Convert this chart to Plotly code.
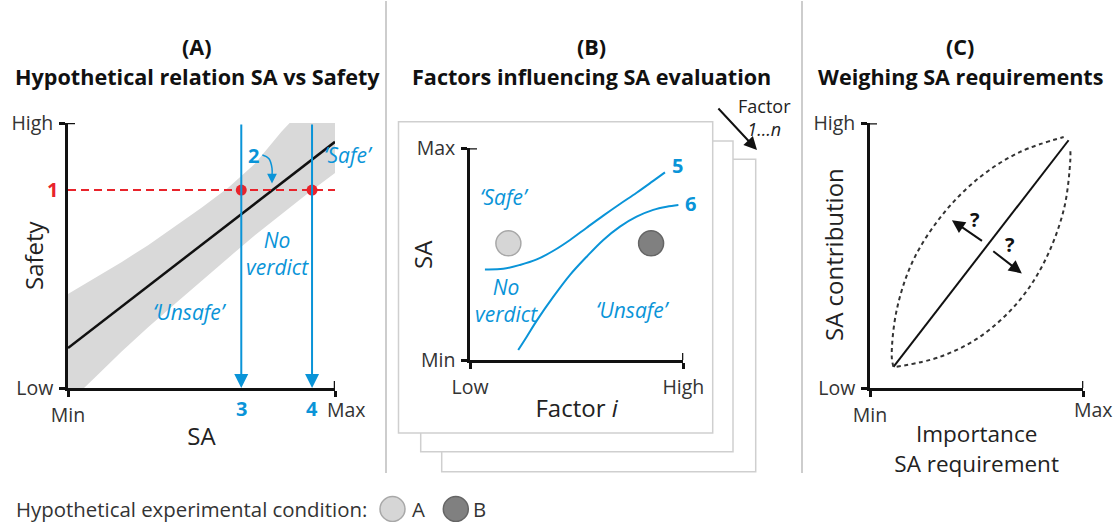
import plotly.graph_objects as go

# ---------------- data (normalised 0..1 conceptual axes) ----------------
# Panel A: hypothetical relation SA vs Safety
fit_x = [0.0, 1.0]
fit_y = [0.151, 0.929]
band_upper_x = [0.0, 0.1, 0.2, 0.3, 0.4, 0.5, 0.6, 0.7, 0.8, 0.83, 1.0]
band_upper_y = [0.355, 0.414, 0.475, 0.539, 0.608, 0.68, 0.756, 0.846, 0.968, 1.0, 1.0]
band_lower_x = [0.0, 0.06, 0.1, 0.2, 0.3, 0.4, 0.5, 0.6, 0.7, 0.8, 0.9, 1.0]
band_lower_y = [0.0, 0.0, 0.039, 0.137, 0.229, 0.317, 0.405, 0.491, 0.576, 0.657, 0.736, 0.811]
safety_threshold = 0.747          # safety level "1"
verdict_x = [0.649, 0.914]        # SA levels "3" and "4"
verdict_labels = ["3", "4"]
arrow2_x = [0.728, 0.752, 0.764, 0.764]
arrow2_y = [0.879, 0.866, 0.83, 0.80]

# Panel B: factors influencing SA evaluation
curve5_x = [0.070, 0.156, 0.234, 0.313, 0.391, 0.469, 0.547, 0.625, 0.703, 0.781, 0.859, 0.914]
curve5_y = [0.428, 0.431, 0.449, 0.475, 0.516, 0.567, 0.625, 0.682, 0.737, 0.790, 0.846, 0.886]
curve6_x = [0.226, 0.266, 0.313, 0.391, 0.469, 0.547, 0.625, 0.703, 0.781, 0.859, 0.922, 0.977]
curve6_y = [0.047, 0.110, 0.186, 0.299, 0.402, 0.488, 0.567, 0.630, 0.677, 0.709, 0.724, 0.732]
conditions = ["A", "B"]
condition_x = [0.180, 0.849]
condition_y = [0.551, 0.551]
condition_fill = ["#d6d6d6", "#808080"]
condition_edge = ["#a8a8a8", "#656565"]

# Panel C: weighing SA requirements
c_line_x = [0.110, 0.931]
c_line_y = [0.080, 0.936]
c_upper_x = [0.110, 0.102, 0.125, 0.203, 0.344, 0.516, 0.704, 0.908]
c_upper_y = [0.080, 0.118, 0.294, 0.483, 0.659, 0.797, 0.892, 0.948]
c_lower_x = [0.125, 0.329, 0.516, 0.689, 0.814, 0.908, 0.939, 0.939]
c_lower_y = [0.080, 0.118, 0.194, 0.320, 0.471, 0.672, 0.860, 0.903]

# tick labels
a_xticks = ["Min", ""]
a_yticks = ["Low", "High"]
b_xticks = ["Low", "High"]
b_yticks = ["Min", "Max"]
c_xticks = ["Min", ""]
c_yticks = ["Low", "High"]

# ---------------- style ----------------
W, H = 1119, 522
FONT = "Open Sans"
BLUE = "#0a94d8"
RED = "#e8232b"
BLACK = "#111111"
TXT = "#222222"
TICK_SIZE = 19.5
AXT_SIZE = 24
TITLE_SIZE = 21.6
BLUE_SIZE = 21


def px(x, y):
    return x / W, 1 - y / H


fig = go.Figure()

# ---- Panel A ----
band_x = band_upper_x + band_lower_x[::-1]
band_y = band_upper_y + band_lower_y[::-1]
fig.add_trace(go.Scatter(x=band_x, y=band_y, fill="toself", fillcolor="#d9d9d9",
                         mode="lines", line=dict(width=0), hoverinfo="skip",
                         xaxis="x", yaxis="y"))
fig.add_trace(go.Scatter(x=fit_x, y=fit_y, mode="lines", line=dict(color=BLACK, width=2.5),
                         xaxis="x", yaxis="y"))
fig.add_trace(go.Scatter(x=[0, 1], y=[safety_threshold] * 2, mode="lines",
                         line=dict(color=RED, width=2, dash="8px,5px"), xaxis="x", yaxis="y"))
fig.add_trace(go.Scatter(x=arrow2_x, y=arrow2_y, mode="lines", line=dict(color=BLUE, width=1.5, shape="spline"),
                         xaxis="x", yaxis="y"))

# ---- Panel B ----
for cx, cy in [(curve5_x, curve5_y), (curve6_x, curve6_y)]:
    fig.add_trace(go.Scatter(x=cx, y=cy, mode="lines", line=dict(color=BLUE, width=2, shape="spline"),
                             xaxis="x2", yaxis="y2"))
for i, name in enumerate(conditions):
    fig.add_trace(go.Scatter(x=[condition_x[i]], y=[condition_y[i]], mode="markers", name=name,
                             marker=dict(size=25, color=condition_fill[i],
                                         line=dict(color=condition_edge[i], width=1.5)),
                             xaxis="x2", yaxis="y2"))

# ---- Panel C ----
fig.add_trace(go.Scatter(x=c_line_x, y=c_line_y, mode="lines", line=dict(color=BLACK, width=2),
                         xaxis="x3", yaxis="y3"))
for cx, cy in [(c_upper_x, c_upper_y), (c_lower_x, c_lower_y)]:
    fig.add_trace(go.Scatter(x=cx, y=cy, mode="lines",
                             line=dict(color="#333333", width=2, dash="4px,3.5px", shape="spline"),
                             xaxis="x3", yaxis="y3"))

# red dots on top
fig.add_trace(go.Scatter(x=verdict_x, y=[safety_threshold] * len(verdict_x), mode="markers",
                         marker=dict(size=11, color=RED), xaxis="x", yaxis="y"))


# ---------------- axes ----------------
def axis(domain, ticktext, anchor, title=None, standoff=8, tsize=AXT_SIZE):
    d = dict(domain=domain, range=[0, 1], anchor=anchor, showgrid=False, zeroline=False,
             showline=True, linecolor=BLACK, linewidth=2.5, ticks="outside", ticklen=6,
             tickwidth=2.5, tickcolor=BLACK, tickvals=[0, 1], ticktext=ticktext,
             tickfont=dict(family=FONT, size=TICK_SIZE, color="#333333"), fixedrange=True,
             ticklabelstandoff=2, automargin=False)
    if title:
        d["title"] = dict(text=title, standoff=standoff, font=dict(family=FONT, size=tsize, color=TXT))
    return d


A = dict(x0=68, x1=335, y0=388, y1=123)
B = dict(x0=470, x1=683.3, y0=360, y1=148.3)
C = dict(x0=870, x1=1083.3, y0=388, y1=123.3)


def xd(p):
    return [p["x0"] / W, p["x1"] / W]


def yd(p):
    return [1 - p["y0"] / H, 1 - p["y1"] / H]


layout_axes = dict(
    xaxis=axis(xd(A), a_xticks, "y", "SA", 2),
    yaxis=axis(yd(A), a_yticks, "x"),
    xaxis2=axis(xd(B), b_xticks, "y2", "Factor <i>i</i>", 2),
    yaxis2=axis(yd(B), b_yticks, "x2"),
    xaxis3=axis(xd(C), c_xticks, "y3", "Importance<br>SA requirement", 0, 22.5),
    yaxis3=axis(yd(C), c_yticks, "x3"),
)

# ---------------- shapes ----------------
shapes = []
# separators
for sx in [386, 802]:
    shapes.append(dict(type="line", xref="paper", yref="paper", x0=sx / W, x1=sx / W,
                       y0=1 - 1 / H, y1=1 - 473 / H, line=dict(color="#bdbdbd", width=1.5)))
# stacked panels in B (back to front)
for (l, t, r, b) in [(441.7, 159.3, 755.7, 471.7), (420.7, 141, 733, 451.7), (398.5, 121.7, 712.7, 433)]:
    shapes.append(dict(type="rect", xref="paper", yref="paper", x0=l / W, x1=r / W,
                       y0=1 - b / H, y1=1 - t / H, fillcolor="white",
                       line=dict(color="#cfcfcf", width=1.5), layer="below"))
# end ticks crossing the axes
for xa, ya in [("x", "y"), ("x2", "y2"), ("x3", "y3")]:
    shapes.append(dict(type="line", xref=xa, yref=ya, xsizemode="pixel", xanchor=0, x0=-7, x1=7,
                       y0=1, y1=1, line=dict(color=BLACK, width=2.5)))
    shapes.append(dict(type="line", xref=xa, yref=ya, ysizemode="pixel", yanchor=0, y0=-7, y1=7,
                       x0=1, x1=1, line=dict(color=BLACK, width=2.5)))
# legend circles
for i, cxp in enumerate([392.5, 455.8]):
    shapes.append(dict(type="circle", xref="paper", yref="paper", xsizemode="pixel", ysizemode="pixel",
                       xanchor=cxp / W, yanchor=1 - 509 / H, x0=-12.5, x1=12.5, y0=-12.5, y1=12.5,
                       fillcolor=condition_fill[i], line=dict(color=condition_edge[i], width=1.5)))

# ---------------- annotations ----------------
ann = []


def fmt(s, bold, italic):
    if bold:
        s = "<b>" + s + "</b>"
    if italic:
        s = "<i>" + s + "</i>"
    return s


def text_px(x, y, s, size=18, color=TXT, bold=False, italic=False, angle=0, xanchor="center"):
    xx, yy = px(x, y)
    ann.append(dict(x=xx, y=yy, xref="paper", yref="paper", text=fmt(s, bold, italic), showarrow=False,
                    xanchor=xanchor, yanchor="middle", textangle=angle,
                    font=dict(family=FONT, size=size, color=color)))


def text_data(xa, ya, x, y, s, size=BLUE_SIZE, color=BLUE, bold=False, italic=False, xshift=0, yshift=0):
    ann.append(dict(x=x, y=y, xref=xa, yref=ya, text=fmt(s, bold, italic), showarrow=False,
                    xshift=xshift, yshift=yshift, font=dict(family=FONT, size=size, color=color)))


def arrow_data(xa, ya, x_tail, y_tail, x_head, y_head, color, width=2, size=1.3):
    ann.append(dict(x=x_head, y=y_head, ax=x_tail, ay=y_tail, xref=xa, yref=ya, axref=xa, ayref=ya,
                    text="", showarrow=True, arrowhead=2, arrowsize=size, arrowwidth=width,
                    arrowcolor=color, standoff=0, startstandoff=0))


# titles
for cx, lab, title in [(197, "(A)", "Hypothetical relation SA vs Safety"),
                       (591, "(B)", "Factors influencing SA evaluation"),
                       (960, "(C)", "Weighing SA requirements")]:
    text_px(cx, 47, lab, size=TITLE_SIZE, color="#111111", bold=True)
    text_px(cx, 76, title, size=TITLE_SIZE, color="#111111", bold=True)

# y-axis titles
text_px(33, 255, "Safety", size=AXT_SIZE, angle=-90)
text_px(422, 255, "SA", size=AXT_SIZE, angle=-90)
text_px(833, 255, "SA contribution", size=AXT_SIZE, angle=-90)

# "Max" labels set slightly right of the axis end, as in the reference
text_data("x", "y", 1, 0, "Max", size=TICK_SIZE, color="#333333", xshift=11, yshift=-21)
text_data("x3", "y3", 1, 0, "Max", size=TICK_SIZE, color="#333333", xshift=10, yshift=-21)

# Panel A labels
text_px(52, 190, "1", size=20, color=RED, bold=True)
for vx in verdict_x:
    arrow_data("x", "y", vx, 1.0, vx, 0.0, BLUE, width=2, size=1.4)
for vx, lab in zip(verdict_x, verdict_labels):
    text_data("x", "y", vx, 0, lab, size=20, bold=True, yshift=-20)
arrow_data("x", "y", arrow2_x[-1], arrow2_y[-1], 0.764, 0.772, BLUE, width=1.5, size=1.3)
text_data("x", "y", 0.694, 0.879, "2", size=20, bold=True)
text_data("x", "y", 1.0, 0.879, "\u2018Safe\u2019", italic=True, xshift=13)
text_data("x", "y", 0.783, 0.506, "No<br>verdict", italic=True)
text_data("x", "y", 0.457, 0.288, "\u2018Unsafe\u2019", italic=True)

# Panel B labels
text_data("x2", "y2", 0.164, 0.770, "\u2018Safe\u2019", italic=True)
text_data("x2", "y2", 0.169, 0.283, "No<br>verdict", italic=True)
text_data("x2", "y2", 0.764, 0.236, "\u2018Unsafe\u2019", italic=True)
text_data("x2", "y2", 0.975, 0.921, "5", size=20, bold=True)
text_data("x2", "y2", 1.0, 0.737, "6", size=20, bold=True, xshift=7)
text_px(764, 117, "Factor<br><i>1\u2026n</i>", size=18)
hx, hy = px(757, 150)
ann.append(dict(x=hx, y=hy, xref="paper", yref="paper", ax=-40, ay=-43, text="", showarrow=True,
                arrowhead=2, arrowsize=1.3, arrowwidth=2, arrowcolor=BLACK, standoff=0))

# Panel C labels
arrow_data("x3", "y3", 0.532, 0.552, 0.384, 0.634, BLACK, width=2, size=1.3)
arrow_data("x3", "y3", 0.571, 0.521, 0.712, 0.433, BLACK, width=2, size=1.3)
text_data("x3", "y3", 0.493, 0.636, "?", size=20, color=BLACK, bold=True)
text_data("x3", "y3", 0.657, 0.542, "?", size=20, color=BLACK, bold=True)

# legend line
text_px(14, 509, "Hypothetical experimental condition:", size=20.4, color="#333333", xanchor="left")
text_px(418.5, 509, conditions[0], size=20.4, color="#333333")
text_px(479, 509, conditions[1], size=20.4, color="#333333")

fig.update_layout(
    width=W, height=H, margin=dict(l=0, r=0, t=0, b=0, pad=0, autoexpand=False),
    paper_bgcolor="white", plot_bgcolor="rgba(0,0,0,0)",
    showlegend=False, shapes=shapes, annotations=ann,
    font=dict(family=FONT, color=TXT),
    **layout_axes,
)

fig.write_html("out.html", config={"displayModeBar": False},
               post_script="document.body.style.margin='0';document.body.style.overflow='hidden';")
